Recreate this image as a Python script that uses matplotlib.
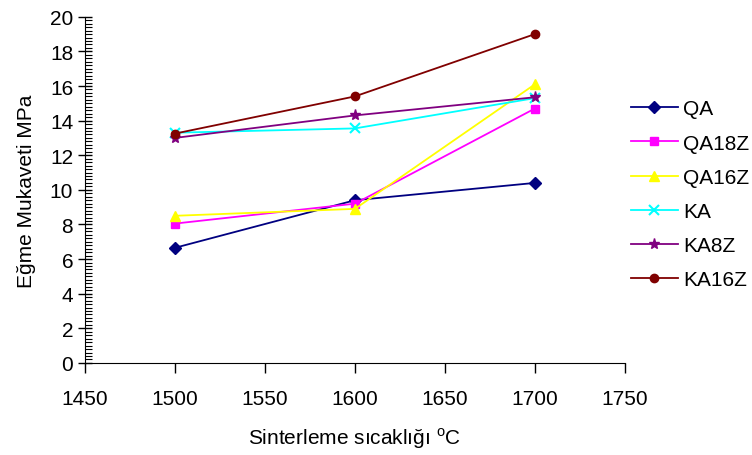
import matplotlib
matplotlib.use('Agg')
import matplotlib.pyplot as plt
from matplotlib.ticker import MultipleLocator

plt.rcParams['font.family'] = ['Liberation Sans', 'DejaVu Sans']
plt.rcParams['mathtext.fontset'] = 'custom'
plt.rcParams['mathtext.rm'] = 'Liberation Sans'

temps = [1500, 1600, 1700]
names = ['QA', 'QA18Z', 'QA16Z', 'KA', 'KA8Z', 'KA16Z']
qa = [6.65, 9.4, 10.4]
qa18z = [8.05, 9.2, 14.7]
qa16z = [8.5, 8.9, 16.1]
ka = [13.3, 13.55, 15.3]
ka8z = [13.0, 14.3, 15.35]
ka16z = [13.25, 15.4, 19.0]

series = [qa, qa18z, qa16z, ka, ka8z, ka16z]
colors = ['#000080', '#ff00ff', '#ffff00', '#00ffff', '#800080', '#800000']
markers = ['D', 's', '^', 'x', '*', 'o']
msizes = [6, 6, 7, 7, 8, 6]

fs = 15

fig = plt.figure(figsize=(7.52, 4.56), dpi=100)
ax = fig.add_axes([0.113, 0.202, 0.718, 0.759])

for name, vals, c, m, ms in zip(names, series, colors, markers, msizes):
    ax.plot(temps, vals, color=c, marker=m, markersize=ms, linewidth=1.3,
            markeredgewidth=1.5 if m == 'x' else 1.0, label=name)

ax.set_xlim(1450, 1750)
ax.set_ylim(0, 20)
ax.xaxis.set_major_locator(MultipleLocator(50))
ax.yaxis.set_major_locator(MultipleLocator(2))
ax.yaxis.set_minor_locator(MultipleLocator(0.2))

ax.spines['top'].set_visible(False)
ax.spines['right'].set_visible(False)
ax.tick_params(axis='x', direction='out', length=7, width=1, labelsize=fs, pad=12)
ax.tick_params(axis='y', which='major', direction='inout', length=10, width=1, labelsize=fs)
ax.tick_params(axis='y', which='minor', direction='in', length=5, width=0.8)

ax.set_xlabel('Sinterleme sıcaklığı $^{\\mathrm{o}}$C', fontsize=fs, labelpad=12)
ax.set_ylabel('Eğme Mukaveti MPa', fontsize=fs, labelpad=10)

fig.legend(loc='upper left', bbox_to_anchor=(0.828, 0.798), frameon=False,
           fontsize=fs, handlelength=2.25, handletextpad=0.25, labelspacing=0.73,
           borderaxespad=0)

fig.savefig('out.png', dpi=100)
